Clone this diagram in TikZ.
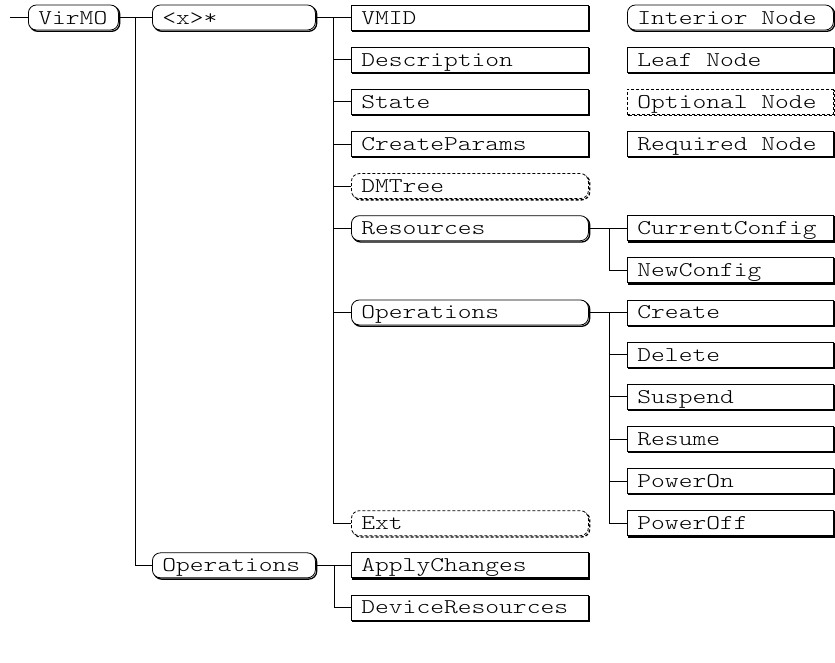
\documentclass[tikz,border=0pt]{standalone}
\usepackage{fontspec}
\newfontfamily\treefont{Latin Modern Mono Light}[FakeStretch=1.25]
\newcommand\treetext{\treefont\fontsize{21pt}{24pt}\selectfont\spaceskip=0.656em\relax}

\tikzset{
  treenode/.style={draw, fill=white, line width=0.8pt, minimum height=25pt,
    inner xsep=10pt, inner ysep=3pt, text height=16pt, text depth=3pt,
    align=flush left, anchor=west, font=\treetext,
    preaction={draw, line width=1.3pt, transform canvas={shift={(1.3pt,-1.3pt)}}}},
  leaf/.style={treenode},
  inner/.style={treenode, rounded corners=8pt},
  optional/.style={dash pattern=on 3pt off 2pt},
  colmid/.style={text width=217pt},
  colright/.style={text width=186pt},
}

\begin{document}
\begin{tikzpicture}[x=1pt, y=-42.14pt, line width=0.8pt]
  \useasboundingbox (0pt,0pt) rectangle (835pt,-662pt);
  \begin{scope}[yshift=-17.5pt]
    % root and first level
    \coordinate (root) at (10,0);
    \node[inner, text width=70pt] (virmo) at (28,0) {VirMO};
    \node[inner, text width=143pt] (entry) at (152,0) {<x>*};
    \node[inner, text width=143pt] (ops) at (152,13) {Operations};

    % children of <x>*
    \node[leaf, colmid] (vmid) at (351,0) {VMID};
    \node[leaf, colmid] (description) at (351,1) {Description};
    \node[leaf, colmid] (state) at (351,2) {State};
    \node[leaf, colmid] (createparams) at (351,3) {CreateParams};
    \node[inner, optional, colmid] (dmtree) at (351,4) {DMTree};
    \node[inner, colmid] (resources) at (351,5) {Resources};
    \node[inner, colmid] (vmops) at (351,7) {Operations};
    \node[inner, optional, colmid] (ext) at (351,12) {Ext};

    % children of Operations
    \node[leaf, colmid] (applychanges) at (351,13) {ApplyChanges};
    \node[leaf, colmid] (deviceresources) at (351,14) {DeviceResources};

    % third level
    \node[leaf, colright] (currentconfig) at (627,5) {CurrentConfig};
    \node[leaf, colright] (newconfig) at (627,6) {NewConfig};
    \node[leaf, colright] (create) at (627,7) {Create};
    \node[leaf, colright] (delete) at (627,8) {Delete};
    \node[leaf, colright] (suspend) at (627,9) {Suspend};
    \node[leaf, colright] (resume) at (627,10) {Resume};
    \node[leaf, colright] (poweron) at (627,11) {PowerOn};
    \node[leaf, colright] (poweroff) at (627,12) {PowerOff};

    % legend
    \node[inner, colright] (leginterior) at (627,0) {Interior Node};
    \node[leaf, colright] (legleaf) at (627,1) {Leaf Node};
    \node[leaf, optional, colright] (legoptional) at (627,2) {Optional Node};
    \node[leaf, colright] (legrequired) at (627,3) {Required Node};

    % connectors
    \draw (root) -- (virmo);
    \foreach \c in {entry, ops}
      \draw (virmo.east) -- ++(17,0) |- (\c.west);
    \foreach \c in {vmid, description, state, createparams, dmtree, resources, vmops, ext}
      \draw (entry.east) -- ++(18,0) |- (\c.west);
    \foreach \c in {currentconfig, newconfig}
      \draw (resources.east) -- ++(21,0) |- (\c.west);
    \foreach \c in {create, delete, suspend, resume, poweron, poweroff}
      \draw (vmops.east) -- ++(21,0) |- (\c.west);
    \foreach \c in {applychanges, deviceresources}
      \draw (ops.east) -- ++(19,0) |- (\c.west);
  \end{scope}
\end{tikzpicture}
\end{document}
